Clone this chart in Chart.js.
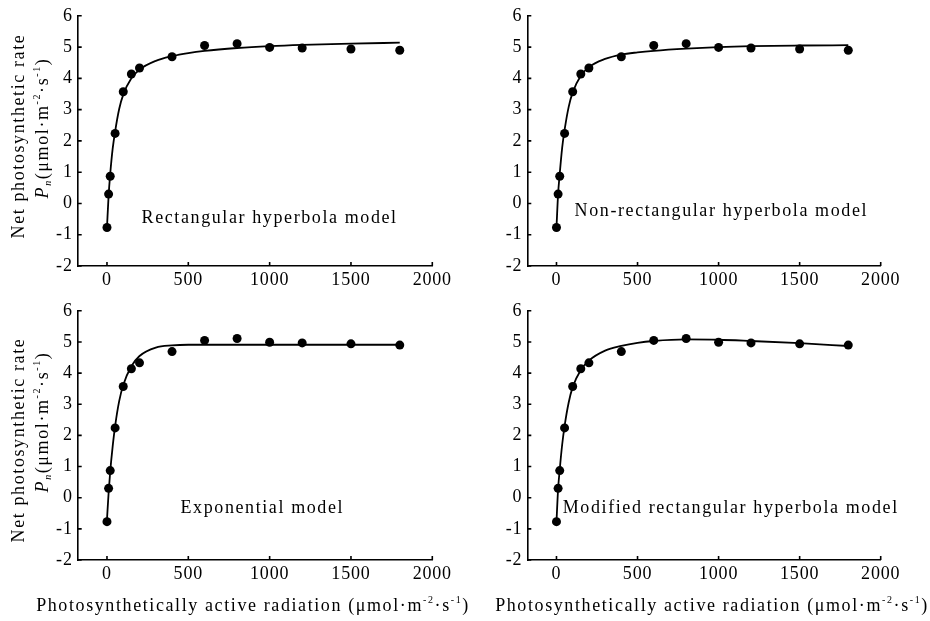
<!DOCTYPE html>
<html>
<head>
<meta charset="utf-8">
<title>Light response curves</title>
<script src="https://cdn.jsdelivr.net/npm/chart.js@4.4.0/dist/chart.umd.min.js"></script>
<style>
  html, body { margin: 0; padding: 0; background: #fff; }
  #wrap { position: relative; width: 930px; height: 621px; overflow: hidden; }
  #wrap canvas { position: absolute; }
</style>
</head>
<body>
<div id="wrap">
  <canvas id="panel-rect" width="480" height="295" style="left:0;top:0"></canvas>
  <canvas id="panel-nonrect" width="465" height="295" style="left:465px;top:0"></canvas>
  <canvas id="panel-exp" width="480" height="326" style="left:0;top:295px"></canvas>
  <canvas id="panel-mod" width="465" height="326" style="left:465px;top:295px"></canvas>
</div>
<script>
'use strict';

// Measured light response (PAR vs net photosynthetic rate).
const parMeasured = [0, 10, 20, 50, 100, 150, 200, 400, 600, 800, 1000, 1200, 1500, 1800];
const pnMeasured = [-0.77, 0.30, 0.87, 2.24, 3.57, 4.14, 4.33, 4.69, 5.05, 5.11, 4.99, 4.97, 4.94, 4.90];

// Fitted curves at these PAR values.
const parFit = [0, 10, 20, 35, 50, 75, 100, 150, 200, 300, 400, 500, 600, 800, 1000, 1200, 1500, 1800];
const fitRectangular = [-0.77, 0.25, 0.95, 1.75, 2.30, 3.02, 3.48, 4.00, 4.28, 4.56, 4.71, 4.81, 4.88, 4.97, 5.03, 5.07, 5.11, 5.14];
const fitNonRectangular = [-0.77, 0.30, 0.95, 1.78, 2.35, 3.08, 3.55, 4.08, 4.36, 4.62, 4.76, 4.83, 4.88, 4.95, 5.00, 5.03, 5.05, 5.06];
const fitExponential = [-0.70, 0.15, 0.85, 1.65, 2.30, 3.10, 3.62, 4.22, 4.55, 4.82, 4.89, 4.91, 4.91, 4.91, 4.91, 4.91, 4.91, 4.91];
const fitModified = [-0.77, 0.28, 0.90, 1.70, 2.30, 3.05, 3.55, 4.10, 4.40, 4.72, 4.87, 4.97, 5.03, 5.08, 5.07, 5.03, 4.96, 4.87];

const xTicks = [0, 500, 1000, 1500, 2000];
const yTicks = [-2, -1, 0, 1, 2, 3, 4, 5, 6];
const modelNames = [
  'Rectangular hyperbola model',
  'Non-rectangular hyperbola model',
  'Exponential model',
  'Modified rectangular hyperbola model',
];

const FONT = "'Liberation Serif', 'Times New Roman', serif";
const SPACING = '1.6px';

// Per-panel layout.
const panels = [
  { id: 'panel-rect', fit: fitRectangular, name: modelNames[0], nameAt: [1000, -0.64],
    pad: { top: 14, right: 47.7 }, yWidth: 77.7, xHeight: 29, yTitle: [136, 128], xTitle: null },
  { id: 'panel-nonrect', fit: fitNonRectangular, name: modelNames[1], nameAt: [1017, -0.41],
    pad: { top: 14, right: 49.3 }, yWidth: 62.3, xHeight: 29, yTitle: null, xTitle: null },
  { id: 'panel-exp', fit: fitExponential, name: modelNames[2], nameAt: [955, -0.49],
    pad: { top: 12.5, right: 47.7 }, yWidth: 77.7, xHeight: 61, yTitle: [145, 127], xTitle: [253, 316] },
  { id: 'panel-mod', fit: fitModified, name: modelNames[3], nameAt: [1075, -0.48],
    pad: { top: 12.5, right: 49.3 }, yWidth: 62.3, xHeight: 61, yTitle: null, xTitle: [247, 316] },
];

const unitParts = [
  { t: '(μmol·m' }, { t: '-2', sup: true }, { t: '·s' }, { t: '-1', sup: true }, { t: ')' },
];
const yTitleLine2 = [{ t: 'P', italic: true }, { t: 'n', sub: true, italic: true }].concat(unitParts);
const xTitleParts = [{ t: 'Photosynthetically active radiation ' }].concat(unitParts);

function partFont(p, size) {
  const s = (p.sup || p.sub) ? Math.round(size * 0.55) : size;
  return (p.italic ? 'italic ' : '') + s + 'px ' + FONT;
}

// Draws mixed text (italic, super/subscript) centred on (cx, baseline).
function drawRich(ctx, parts, cx, baseline, size) {
  let total = 0;
  parts.forEach(p => {
    ctx.font = partFont(p, size);
    p.w = ctx.measureText(p.t).width;
    total += p.w;
  });
  let x = cx - total / 2;
  ctx.textAlign = 'left';
  ctx.textBaseline = 'alphabetic';
  parts.forEach(p => {
    ctx.font = partFont(p, size);
    let dy = 0;
    if (p.sup) dy = -size * 0.42;
    if (p.sub) dy = size * 0.18;
    ctx.fillText(p.t, x, baseline + dy);
    x += p.w;
  });
}

const decorations = {
  id: 'decorations',
  beforeDraw(chart) {
    chart.ctx.letterSpacing = '0.8px';
  },
  afterDraw(chart, args, opts) {
    const ctx = chart.ctx;
    const xs = chart.scales.x;
    const ys = chart.scales.y;
    const area = chart.chartArea;
    ctx.save();
    ctx.strokeStyle = '#000';
    ctx.fillStyle = '#000';
    ctx.lineWidth = 1.6;

    // inward tick marks
    ctx.beginPath();
    xTicks.forEach(v => {
      const px = xs.getPixelForValue(v);
      ctx.moveTo(px, area.bottom);
      ctx.lineTo(px, area.bottom - 4);
    });
    yTicks.forEach(v => {
      const py = ys.getPixelForValue(v);
      ctx.moveTo(area.left, py);
      ctx.lineTo(area.left + 4, py);
    });
    ctx.stroke();

    ctx.letterSpacing = SPACING;

    // model name
    ctx.font = '18px ' + FONT;
    ctx.textAlign = 'center';
    ctx.textBaseline = 'alphabetic';
    ctx.fillText(opts.name, xs.getPixelForValue(opts.nameAt[0]), ys.getPixelForValue(opts.nameAt[1]));

    // y axis title (two lines, rotated)
    if (opts.yTitle) {
      ctx.save();
      ctx.rotate(-Math.PI / 2);
      ctx.font = '18px ' + FONT;
      ctx.textAlign = 'center';
      ctx.textBaseline = 'alphabetic';
      ctx.fillText('Net photosynthetic rate', -opts.yTitle[0], 24);
      drawRich(ctx, yTitleLine2, -opts.yTitle[1], 48, 18);
      ctx.restore();
    }

    // x axis title
    if (opts.xTitle) {
      drawRich(ctx, xTitleParts, opts.xTitle[0], opts.xTitle[1], 18);
    }
    ctx.restore();
  },
};

function buildPanel(p) {
  const canvas = document.getElementById(p.id);
  return new Chart(canvas.getContext('2d'), {
    type: 'scatter',
    data: {
      datasets: [
        {
          label: 'Fitted',
          data: parFit.map((x, i) => ({ x: x, y: p.fit[i] })),
          showLine: true,
          borderColor: '#000',
          borderWidth: 1.8,
          pointRadius: 0,
          cubicInterpolationMode: 'monotone',
          fill: false,
          order: 2,
        },
        {
          label: 'Measured',
          data: parMeasured.map((x, i) => ({ x: x, y: pnMeasured[i] })),
          showLine: false,
          backgroundColor: '#000',
          borderColor: '#000',
          borderWidth: 0,
          pointRadius: 4.5,
          order: 1,
        },
      ],
    },
    options: {
      responsive: false,
      devicePixelRatio: 1,
      animation: false,
      events: [],
      layout: {
        padding: { left: 0, top: p.pad.top, right: p.pad.right, bottom: 0 },
      },
      plugins: {
        legend: { display: false },
        tooltip: { enabled: false },
        decorations: { name: p.name, nameAt: p.nameAt, yTitle: p.yTitle, xTitle: p.xTitle },
      },
      scales: {
        x: {
          type: 'linear',
          min: -180,
          max: 2000,
          afterBuildTicks: s => { s.ticks = xTicks.map(v => ({ value: v })); },
          afterFit: s => { s.height = p.xHeight; },
          grid: { display: false, drawTicks: false },
          border: { display: true, color: '#000', width: 1.6 },
          ticks: {
            color: '#000', padding: 3, maxRotation: 0,
            font: { family: FONT, size: 18 },
            callback: v => String(v),
          },
        },
        y: {
          type: 'linear',
          min: -2,
          max: 6,
          afterBuildTicks: s => { s.ticks = yTicks.map(v => ({ value: v })); },
          afterFit: s => { s.width = p.yWidth; },
          grid: { display: false, drawTicks: false },
          border: { display: true, color: '#000', width: 1.6 },
          ticks: {
            color: '#000', padding: 5,
            font: { family: FONT, size: 18 },
            callback: v => String(v),
          },
        },
      },
    },
    plugins: [decorations],
  });
}

panels.forEach(buildPanel);
</script>
</body>
</html>
